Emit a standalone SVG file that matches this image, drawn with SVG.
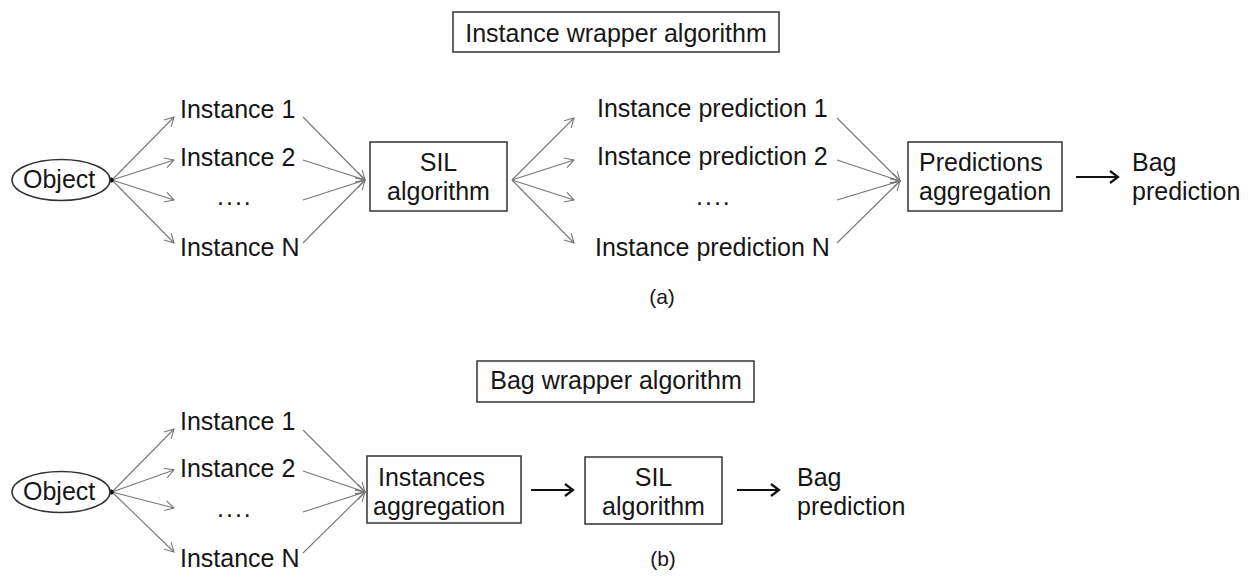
<svg xmlns="http://www.w3.org/2000/svg" width="1254" height="578" viewBox="0 0 1254 578">
<style>
text{font-family:"Liberation Sans",Arial,sans-serif;font-size:25px;fill:#161616}
.c{text-anchor:middle}
.lbl{font-size:21px}
.dots{letter-spacing:2px}
.box{fill:#fff;stroke:#333;stroke-width:1.5}
.ell{fill:#fff;stroke:#333;stroke-width:1.5}
.g{stroke:#777;stroke-width:1.1;fill:none;marker-end:url(#ga)}
.k{stroke:#111;stroke-width:2.2;fill:none;marker-end:url(#ka)}
</style>
<defs>
<marker id="ga" markerUnits="userSpaceOnUse" markerWidth="12" markerHeight="12" refX="10" refY="5" orient="auto" viewBox="0 0 12 12" overflow="visible">
<path d="M1,0 L10,5 L1,10" fill="none" stroke="#777" stroke-width="1.1"/>
</marker>
<marker id="ka" markerUnits="userSpaceOnUse" markerWidth="12" markerHeight="14" refX="10" refY="6" orient="auto" viewBox="0 0 12 12" overflow="visible">
<path d="M2,0 L10,6 L2,12" fill="none" stroke="#111" stroke-width="2.2"/>
</marker>
</defs>
<rect width="1254" height="578" fill="#fff"/>

<g id="connectors">
<!-- (a) -->
<line class="g" x1="112" y1="180" x2="174" y2="117"/>
<line class="g" x1="112" y1="180" x2="174" y2="160"/>
<line class="g" x1="112" y1="180" x2="174" y2="200"/>
<line class="g" x1="112" y1="180" x2="174" y2="243"/>
<line class="g" x1="303" y1="117" x2="365" y2="180"/>
<line class="g" x1="303" y1="160" x2="365" y2="180"/>
<line class="g" x1="303" y1="200" x2="365" y2="180"/>
<line class="g" x1="303" y1="243" x2="365" y2="180"/>
<line class="g" x1="512" y1="180" x2="574" y2="118"/>
<line class="g" x1="512" y1="180" x2="574" y2="160"/>
<line class="g" x1="512" y1="180" x2="574" y2="200"/>
<line class="g" x1="512" y1="180" x2="574" y2="243"/>
<line class="g" x1="837" y1="118" x2="900" y2="181"/>
<line class="g" x1="837" y1="160" x2="900" y2="181"/>
<line class="g" x1="837" y1="200" x2="900" y2="181"/>
<line class="g" x1="837" y1="243" x2="900" y2="181"/>
<line class="k" x1="1076" y1="177" x2="1118" y2="177"/>
<!-- (b) -->
<line class="g" x1="112" y1="492" x2="174" y2="429"/>
<line class="g" x1="112" y1="492" x2="174" y2="470"/>
<line class="g" x1="112" y1="492" x2="174" y2="508"/>
<line class="g" x1="112" y1="492" x2="174" y2="552"/>
<line class="g" x1="303" y1="430" x2="365" y2="492"/>
<line class="g" x1="303" y1="471" x2="365" y2="492"/>
<line class="g" x1="303" y1="512" x2="365" y2="492"/>
<line class="g" x1="303" y1="553" x2="365" y2="492"/>
<line class="k" x1="531" y1="490" x2="573" y2="490"/>
<line class="k" x1="737" y1="490" x2="779" y2="490"/>
<circle cx="111" cy="180" r="2.6" fill="#111"/>
<circle cx="111" cy="492" r="2.6" fill="#111"/>
</g>

<!-- Part (a) -->
<g id="title-a"><rect class="box" x="453" y="12" width="326" height="40"/><text class="c" x="616" y="42">Instance wrapper algorithm</text></g>
<g id="object-a"><ellipse class="ell" cx="61" cy="180" rx="49" ry="20.5"/><text x="23" y="188">Object</text></g>
<g id="inst-a-1"><text x="180" y="118">Instance 1</text></g>
<g id="inst-a-2"><text x="180" y="166">Instance 2</text></g>
<g id="inst-a-dots"><text class="dots" x="217" y="205">....</text></g>
<g id="inst-a-n"><text x="180" y="256">Instance N</text></g>
<g id="sil-a"><rect class="box" x="370" y="142" width="137" height="69"/><text class="c" x="438.5" y="171">SIL</text><text class="c" x="438.5" y="200">algorithm</text></g>
<g id="pred-1"><text x="597" y="117">Instance prediction 1</text></g>
<g id="pred-2"><text x="597" y="165">Instance prediction 2</text></g>
<g id="pred-dots"><text class="dots" x="696" y="205">....</text></g>
<g id="pred-n"><text x="595" y="256">Instance prediction N</text></g>
<g id="pred-agg"><rect class="box" x="908" y="142" width="154" height="69"/><text x="919" y="171">Predictions</text><text x="919" y="200">aggregation</text></g>
<g id="bag-pred-a"><text x="1132" y="171">Bag</text><text x="1132" y="200">prediction</text></g>
<g id="label-a"><text class="c lbl" x="662" y="304">(a)</text></g>

<!-- Part (b) -->
<g id="title-b"><rect class="box" x="477" y="361" width="277" height="41"/><text class="c" x="616" y="389">Bag wrapper algorithm</text></g>
<g id="object-b"><ellipse class="ell" cx="61" cy="492" rx="49" ry="20.5"/><text x="23" y="500">Object</text></g>
<g id="inst-b-1"><text x="180" y="430">Instance 1</text></g>
<g id="inst-b-2"><text x="180" y="477">Instance 2</text></g>
<g id="inst-b-dots"><text class="dots" x="217" y="517">....</text></g>
<g id="inst-b-n"><text x="180" y="567">Instance N</text></g>
<g id="inst-agg"><rect class="box" x="367" y="456" width="154" height="67"/><text x="378" y="486">Instances</text><text x="373" y="515">aggregation</text></g>
<g id="sil-b"><rect class="box" x="585" y="457" width="137" height="67"/><text class="c" x="653.5" y="486">SIL</text><text class="c" x="653.5" y="515">algorithm</text></g>
<g id="bag-pred-b"><text x="797" y="486">Bag</text><text x="797" y="515">prediction</text></g>
<g id="label-b"><text class="c lbl" x="663" y="566">(b)</text></g>
</svg>
